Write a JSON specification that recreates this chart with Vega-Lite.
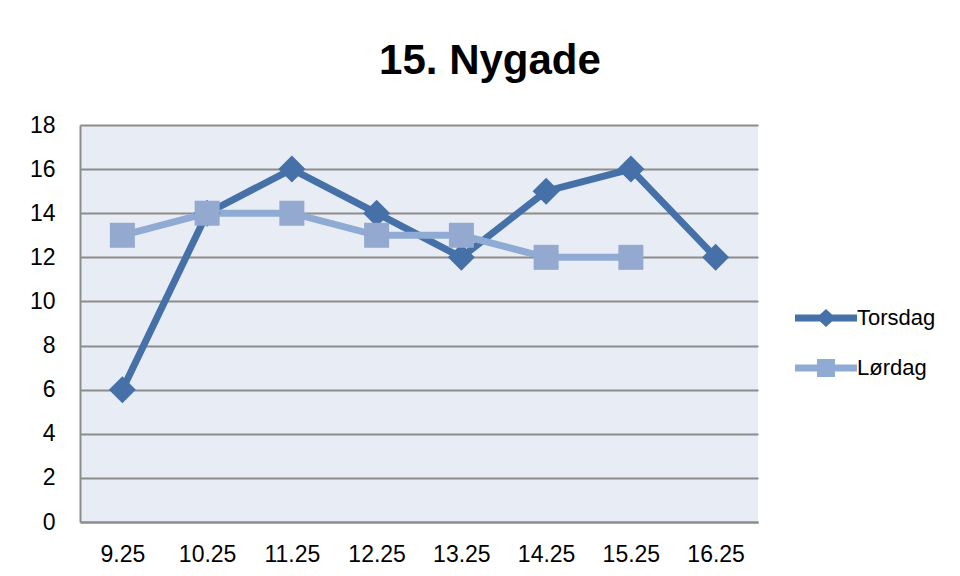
{
  "$schema": "https://vega.github.io/schema/vega-lite/v6.json",
  "width": 678,
  "height": 397,
  "autosize": {"type": "none"},
  "padding": {"left": 80, "top": 125, "right": 202, "bottom": 54},
  "background": "white",
  "config": {
    "font": "Liberation Sans",
    "view": {"fill": "#E8ECF4", "stroke": null}
  },
  "title": {
    "text": "15. Nygade",
    "font": "Liberation Sans",
    "fontSize": 42,
    "fontWeight": "bold",
    "color": "#000000",
    "anchor": "middle",
    "frame": "group",
    "dx": 71,
    "offset": 31
  },
  "data": {
    "values": [
      {"time": "9.25", "series": "Torsdag", "value": 6},
      {"time": "10.25", "series": "Torsdag", "value": 14},
      {"time": "11.25", "series": "Torsdag", "value": 16},
      {"time": "12.25", "series": "Torsdag", "value": 14},
      {"time": "13.25", "series": "Torsdag", "value": 12},
      {"time": "14.25", "series": "Torsdag", "value": 15},
      {"time": "15.25", "series": "Torsdag", "value": 16},
      {"time": "16.25", "series": "Torsdag", "value": 12},
      {"time": "9.25", "series": "Lørdag", "value": 13},
      {"time": "10.25", "series": "Lørdag", "value": 14},
      {"time": "11.25", "series": "Lørdag", "value": 14},
      {"time": "12.25", "series": "Lørdag", "value": 13},
      {"time": "13.25", "series": "Lørdag", "value": 13},
      {"time": "14.25", "series": "Lørdag", "value": 12},
      {"time": "15.25", "series": "Lørdag", "value": 12}
    ]
  },
  "encoding": {
    "x": {
      "field": "time",
      "type": "ordinal",
      "sort": ["9.25", "10.25", "11.25", "12.25", "13.25", "14.25", "15.25", "16.25"],
      "scale": {"type": "point", "padding": 0.5},
      "axis": {
        "title": null,
        "labelAngle": 0,
        "labelFont": "Liberation Sans",
        "labelFontSize": 23,
        "labelColor": "#000000",
        "labelPadding": 21,
        "ticks": false,
        "domainColor": "#8C8C8C",
        "domainWidth": 2,
        "grid": false
      }
    },
    "y": {
      "field": "value",
      "type": "quantitative",
      "scale": {"domain": [0, 18], "nice": false},
      "axis": {
        "title": null,
        "values": [0, 2, 4, 6, 8, 10, 12, 14, 16, 18],
        "labelFont": "Liberation Sans",
        "labelFontSize": 23,
        "labelColor": "#000000",
        "labelPadding": 25,
        "ticks": false,
        "domainColor": "#8C8C8C",
        "domainWidth": 2,
        "grid": true,
        "gridColor": "#8C8C8C",
        "gridWidth": 2
      }
    }
  },
  "layer": [
    {
      "transform": [{"filter": "datum.series === 'Torsdag'"}],
      "mark": {"type": "line", "strokeWidth": 7, "strokeJoin": "miter", "color": "#4571A8"}
    },
    {
      "transform": [{"filter": "datum.series === 'Lørdag'"}],
      "mark": {"type": "line", "strokeWidth": 7, "strokeJoin": "miter", "color": "#8FAAD3"}
    },
    {
      "transform": [{"filter": "datum.series === 'Torsdag'"}],
      "mark": {"type": "point", "shape": "diamond", "filled": true, "size": 729, "color": "#4571A8", "opacity": 1}
    },
    {
      "transform": [{"filter": "datum.series === 'Lørdag'"}],
      "mark": {"type": "point", "shape": "square", "filled": true, "size": 625, "color": "#94A9D0", "opacity": 1}
    },
    {
      "mark": {"type": "point", "filled": true, "size": 0},
      "encoding": {
        "color": {
          "field": "series",
          "type": "nominal",
          "scale": {"domain": ["Torsdag", "Lørdag"], "range": ["#4571A8", "#8FAAD3"]},
          "legend": {
            "orient": "none",
            "legendX": 735,
            "legendY": 182,
            "title": null,
            "padding": 0,
            "symbolSize": 400,
            "symbolOpacity": 1,
            "symbolStrokeWidth": 0,
            "labelOffset": 20,
            "labelFont": "Liberation Sans",
            "labelFontSize": 22,
            "labelColor": "#000000",
            "rowPadding": 28
          }
        },
        "shape": {
          "field": "series",
          "type": "nominal",
          "scale": {
            "domain": ["Torsdag", "Lørdag"],
            "range": [
              "M-3.1,-0.35L-0.6,-0.35L0,-0.9L0.6,-0.35L3.1,-0.35L3.1,0.35L0.6,0.35L0,0.9L-0.6,0.35L-3.1,0.35Z",
              "M-3.1,-0.35L-0.9,-0.35L-0.9,-0.9L0.9,-0.9L0.9,-0.35L3.1,-0.35L3.1,0.35L0.9,0.35L0.9,0.9L-0.9,0.9L-0.9,0.35L-3.1,0.35Z"
            ]
          },
          "legend": {
            "orient": "none",
            "legendX": 735,
            "legendY": 182,
            "title": null,
            "padding": 0,
            "symbolSize": 400,
            "symbolOpacity": 1,
            "symbolStrokeWidth": 0,
            "labelOffset": 20,
            "labelFont": "Liberation Sans",
            "labelFontSize": 22,
            "labelColor": "#000000",
            "rowPadding": 28
          }
        }
      }
    }
  ]
}
